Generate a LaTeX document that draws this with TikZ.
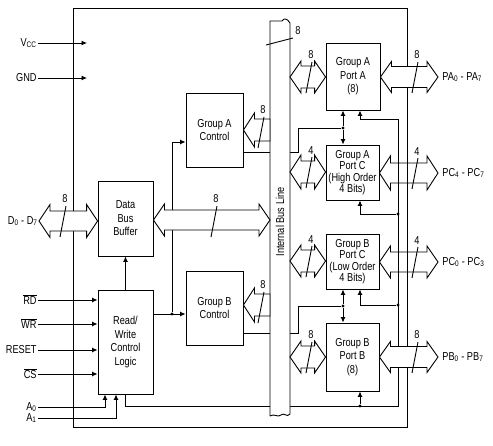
\documentclass[tikz,border=0pt]{standalone}
\usepackage{fontspec}
\setmainfont{Liberation Sans}[FakeStretch=0.8]
\usetikzlibrary{arrows.meta,calc}

% wide bus arrow, heads at both ends: [opts]{left tip}{right tip}{shaft}{head}{head length}
\newcommand\dblarrow[6][fill=white]{%
  \draw[#1] let \p1=#2, \p2=#3 in
    (\x1,\y1) -- (\x1+#6pt,\y1+#5pt) -- (\x1+#6pt,\y1+#4pt) -- (\x2-#6pt,\y1+#4pt)
    -- (\x2-#6pt,\y1+#5pt) -- (\x2,\y1) -- (\x2-#6pt,\y1-#5pt) -- (\x2-#6pt,\y1-#4pt)
    -- (\x1+#6pt,\y1-#4pt) -- (\x1+#6pt,\y1-#5pt) -- cycle;}
% wide bus arrow, head on the left end only
\newcommand\ctrlarrow[5]{%
  \draw[fill=white] let \p1=#1, \p2=#2 in
    (\x1,\y1) -- (\x1+#5pt,\y1+#4pt) -- (\x1+#5pt,\y1+#3pt) -- (\x2,\y1+#3pt)
    -- (\x2,\y1-#3pt) -- (\x1+#5pt,\y1-#3pt) -- (\x1+#5pt,\y1-#4pt) -- cycle;}
% bus width mark
\newcommand\bits[2]{%
  \draw let \p1=#1 in (\x1+3pt,\y1+15pt) -- (\x1-3pt,\y1-16pt)
    (\x1+2pt,\y1+17pt) node[anchor=south, inner sep=0.5pt] {#2};}

\begin{document}
\begin{tikzpicture}[x=1pt, y=-1pt, line width=0.9pt,
    every node/.style={font=\fontsize{11.5}{13.5}\selectfont},
    blk/.style={draw, align=center, inner sep=0pt},
    tight/.style={font=\fontsize{11.5}{11.5}\selectfont},
    lbl/.style={inner sep=1pt, anchor=east},
    rlbl/.style={inner sep=1pt, inner xsep=4pt, anchor=west},
    sig/.style={-{Latex[length=5.5pt,width=5pt]}},
    dot/.style={circle, fill, inner sep=0pt, minimum size=3.2pt}]
  \useasboundingbox (0,0) rectangle (493,445);

  % chip outline
  \draw (73,8) rectangle (407,427);

  % blocks
  \node[blk, minimum width=55pt, minimum height=75pt] (dbb) at (125.5,218.5) {Data\\Bus\\Buffer};
  \node[blk, minimum width=55pt, minimum height=104pt] (rwl) at (125.5,342) {Read/\\Write\\Control\\Logic};
  \node[blk, minimum width=57pt, minimum height=74pt] (gac) at (214.5,130) {Group A\\Control};
  \node[blk, minimum width=57pt, minimum height=74pt] (gbc) at (214.5,308) {Group B\\Control};
  \node[blk, minimum width=54pt, minimum height=67pt] (pa) at (353,76.5) {Group A\\Port A\\(8)};
  \node[blk, tight, minimum width=53pt, minimum height=55pt] (pch) at (352.5,172.5) {Group A\\Port C\\(High Order\\4 Bits)};
  \node[blk, tight, minimum width=53pt, minimum height=55pt] (pcl) at (352.5,261.5) {Group B\\Port C\\(Low Order\\4 Bits)};
  \node[blk, minimum width=53pt, minimum height=68pt] (pb) at (352.5,357) {Group B\\Port B\\(8)};

  \coordinate (busL) at (270,0);
  \coordinate (busR) at (290,0);

  % pins on the left
  \node[lbl] (vcc) at (38,43) {V\textsubscript{CC}};
  \node[lbl] (gnd) at (38,78) {GND};
  \node[lbl] (d07) at (39,221) {D\textsubscript{0} - D\textsubscript{7}};
  \node[lbl] (rd) at (38,300) {$\overline{\mbox{RD}}$};
  \node[lbl] (wr) at (38,324) {$\overline{\mbox{WR}}$};
  \node[lbl] (reset) at (38,350) {RESET};
  \node[lbl] (cs) at (38,374) {$\overline{\mbox{CS}}$};
  \node[lbl] (a0) at (38,407) {A\textsubscript{0}};
  \node[lbl] (a1) at (38,418) {A\textsubscript{1}};

  % pins on the right
  \node[rlbl] (pa07) at (438,77) {PA\textsubscript{0} - PA\textsubscript{7}};
  \node[rlbl] (pc47) at (438,173) {PC\textsubscript{4} - PC\textsubscript{7}};
  \node[rlbl] (pc03) at (438,262) {PC\textsubscript{0} - PC\textsubscript{3}};
  \node[rlbl] (pb07) at (438,357) {PB\textsubscript{0} - PB\textsubscript{7}};

  \draw[sig] (vcc.east) -- (87,43);
  \draw[sig] (gnd.east) -- (87,78);
  \foreach \p in {rd,wr,reset,cs}
    \draw[sig] (\p.east) -- (rwl.west |- \p.east);
  \draw[sig] (a0.east) -- (105,407) -- (rwl.south -| 105,0);
  \draw[sig] (a1.east) -- (116,418) -- (rwl.south -| 116,0);
  \draw[sig] (rwl.north) -- (dbb.south);

  % control to group blocks
  \node[dot] (jc) at (172,314) {};
  \draw[sig] (rwl.east |- jc) -- (gbc.west |- jc);
  \draw[sig] (jc) -- (172,142) -- (gac.west |- 0,142);

  % group A control to ports
  \node[dot] (ja) at (343,128) {};
  \draw (gac.east |- 0,152) -- (298,152) -- (298,128) -- (ja);
  \draw[sig] (ja) -- (pa.south -| ja);
  \draw[sig] (ja) -- (pch.north -| ja);

  % group B control to ports
  \node[dot] (jb) at (343,306) {};
  \draw (gbc.east |- 0,333) -- (298,333) -- (298,306) -- (jb);
  \draw[sig] (jb) -- (pcl.south -| jb);
  \draw[sig] (jb) -- (pb.north -| jb);

  % read/write logic to ports
  \node[dot] (j1) at (398,214) {};
  \node[dot] (j2) at (398,305) {};
  \node[dot] (j3) at (360,406) {};
  \draw (rwl.south) -- (125.5,406) -- (398,406) -- (398,119) -- (360,119);
  \draw[sig] (360,119) -- (pa.south -| 360,0);
  \draw[sig] (j1) -- (360,214) -- (pch.south -| 360,0);
  \draw[sig] (j2) -- (360,305) -- (pcl.south -| 360,0);
  \draw[sig] (j3) -- (pb.south -| j3);

  % internal bus
  \draw[fill=white] (270,416) -- (270,21) -- (282,21) .. controls (284,18) and (287,18) .. (290,23)
    -- (290,414) .. controls (287,418) and (284,412) .. (281,415) .. controls (278,418) and (274,413) .. (270,416);
  \node[rotate=90] (busname) at (280,222) {Internal Bus Line};
  \draw (266,45) -- (293,38);
  \node[inner sep=0.5pt] (buswidth) at (298,31) {8};

  % data paths
  \dblarrow{(d07.east)}{(dbb.west)}{10}{16.5}{11}
  \dblarrow{(dbb.east |- 0,220)}{(busL |- 0,220)}{10}{16}{11}
  \ctrlarrow{(gac.east)}{(busL |- gac.east)}{11}{17}{11}
  \ctrlarrow{(gbc.east |- 0,305)}{(busL |- 0,305)}{11}{17}{11}
  \dblarrow{(busR |- 0,77)}{(pa.west |- 0,77)}{11}{16}{11}
  \dblarrow{(busR |- 0,172)}{(pch.west |- 0,172)}{11}{17}{11}
  \dblarrow{(busR |- 0,261)}{(pcl.west |- 0,261)}{11}{16}{11}
  \dblarrow{(busR |- 0,357)}{(pb.west |- 0,357)}{11}{16}{11}
  \dblarrow{(pa.east |- pa07.west)}{(pa07.west)}{10.5}{15.5}{11}
  \dblarrow[draw]{(pch.east |- pc47.west)}{(pc47.west)}{10}{17}{11}
  \dblarrow[draw]{(pcl.east |- pc03.west)}{(pc03.west)}{10}{16}{11}
  \dblarrow{(pb.east |- pb07.west)}{(pb07.west)}{10.5}{15.5}{11}

  % bus widths
  \bits{(63,221)}{8}
  \bits{(214,221)}{8}
  \bits{(261,132)}{8}
  \bits{(261,307)}{8}
  \bits{(309,77)}{8}
  \bits{(309,172)}{4}
  \bits{(309,261)}{4}
  \bits{(309,357)}{8}
  \bits{(415,77)}{8}
  \bits{(415,173)}{4}
  \bits{(415,262)}{4}
  \bits{(415,357)}{8}
\end{tikzpicture}
\end{document}
